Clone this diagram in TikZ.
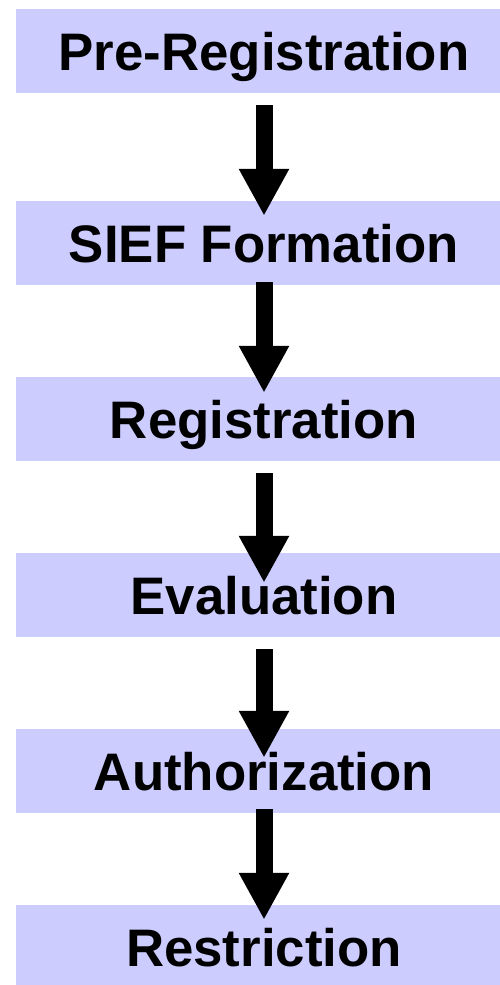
\documentclass[tikz,border=0pt]{standalone}
\usepackage{fontspec}
\setmainfont{Liberation Sans}
\usetikzlibrary{arrows.meta}
\definecolor{stagefill}{HTML}{CCCCFF}
\tikzset{
  stage/.style={fill=stagefill, minimum width=496bp, minimum height=84bp, inner sep=0pt,
                text height=38bp, text depth=0pt, font=\fontsize{53}{60}\selectfont\bfseries},
  flow/.style={line width=17bp, -{Triangle[width=47bp,length=47bp]}}
}
\begin{document}
\begin{tikzpicture}[x=1bp,y=-1bp]
\clip (0,0) rectangle (500,985);
% the six stages, top to bottom
\node[stage] (prereg) at (264,51)  {Pre-Registration};
\node[stage] (sief)   at (264,243) {SIEF Formation};
\node[stage] (reg)    at (264,419) {Registration};
\node[stage] (eval)   at (264,595) {Evaluation};
\node[stage] (auth)   at (264,771) {Authorization};
\node[stage] (restr)  at (264,947) {Restriction};
% arrows sit on top of the boxes
\draw[flow] ([yshift=-12bp]prereg.south) -- ([yshift=-15bp]sief.north);
\draw[flow] ([yshift=3bp]sief.south)     -- ([yshift=-16bp]reg.north);
\draw[flow] ([yshift=-12bp]reg.south)    -- ([yshift=-30bp]eval.north);
\draw[flow] ([yshift=-12bp]eval.south)   -- ([yshift=-29bp]auth.north);
\draw[flow] ([yshift=4bp]auth.south)     -- ([yshift=-15bp]restr.north);
\end{tikzpicture}
\end{document}
